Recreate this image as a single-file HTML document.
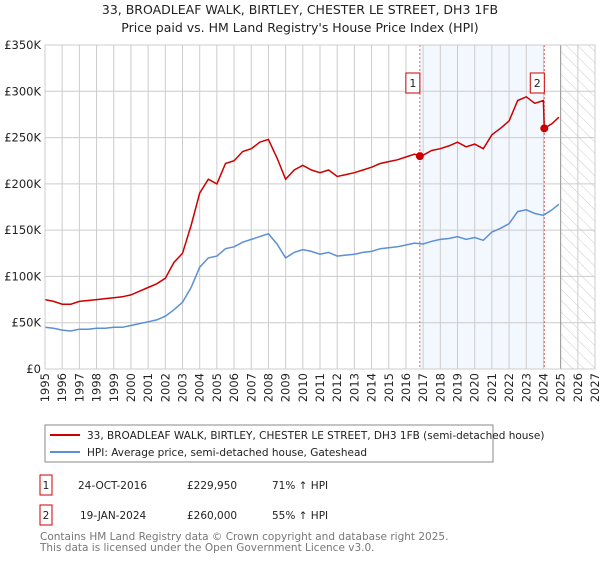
<!DOCTYPE html>
<html><head><meta charset="utf-8"><style>
body{margin:0;background:#fff;font-family:"Liberation Sans","DejaVu Sans",sans-serif;}
svg text{font-family:"DejaVu Sans","Liberation Sans",sans-serif;}
</style></head><body>
<svg width="600" height="560" viewBox="0 0 600 560">
<defs><pattern id="hatch" width="8" height="8" patternUnits="userSpaceOnUse" patternTransform="rotate(-45)"><line x1="0" y1="0" x2="0" y2="8" stroke="#ccc" stroke-width="1"/></pattern></defs>
<text x="300" y="14" text-anchor="middle" font-size="12.5" fill="#222">33, BROADLEAF WALK, BIRTLEY, CHESTER LE STREET, DH3 1FB</text>
<text x="300" y="32" text-anchor="middle" font-size="12.5" fill="#222">Price paid vs. HM Land Registry's House Price Index (HPI)</text>
<g id="plot"></g>
<rect x="45" y="425" width="448" height="37" fill="#fff" stroke="#888"/>
<line x1="50" y1="435" x2="80" y2="435" stroke="#cc0000" stroke-width="2"/>
<text x="87" y="439" font-size="10.5" fill="#222">33, BROADLEAF WALK, BIRTLEY, CHESTER LE STREET, DH3 1FB (semi-detached house)</text>
<line x1="50" y1="452" x2="80" y2="452" stroke="#5b8fd6" stroke-width="2"/>
<text x="87" y="456" font-size="10.5" fill="#222">HPI: Average price, semi-detached house, Gateshead</text>
<g font-size="10.5" fill="#222">
<rect x="40" y="475" width="12" height="20" fill="#fff" stroke="#cc0000"/><text x="46" y="489" text-anchor="middle">1</text>
<text x="78" y="489">24-OCT-2016</text><text x="187" y="489">£229,950</text><text x="272" y="489">71% ↑ HPI</text>
<rect x="40" y="505" width="12" height="20" fill="#fff" stroke="#cc0000"/><text x="46" y="519" text-anchor="middle">2</text>
<text x="80" y="519">19-JAN-2024</text><text x="187" y="519">£260,000</text><text x="272" y="519">55% ↑ HPI</text>
</g>
<text x="40" y="540" font-size="10.5" fill="#777">Contains HM Land Registry data © Crown copyright and database right 2025.</text>
<text x="40" y="551" font-size="10.5" fill="#777">This data is licensed under the Open Government Licence v3.0.</text>
</svg>
<script>
const hpiT=[1995,1995.5,1996,1996.5,1997,1997.5,1998,1998.5,1999,1999.5,2000,2000.5,2001,2001.5,2002,2002.5,2003,2003.5,2004,2004.5,2005,2005.5,2006,2006.5,2007,2007.5,2008,2008.5,2009,2009.5,2010,2010.5,2011,2011.5,2012,2012.5,2013,2013.5,2014,2014.5,2015,2015.5,2016,2016.5,2017,2017.5,2018,2018.5,2019,2019.5,2020,2020.5,2021,2021.5,2022,2022.5,2023,2023.5,2024,2024.5,2024.9];
const hpiV=[45,44,42,41,43,43,44,44,45,45,47,49,51,53,57,64,72,88,110,120,122,130,132,137,140,143,146,135,120,126,129,127,124,126,122,123,124,126,127,130,131,132,134,136,135,138,140,141,143,140,142,139,148,152,157,170,172,168,166,172,178];
const propT=[1995,1995.5,1996,1996.5,1997,1997.5,1998,1998.5,1999,1999.5,2000,2000.5,2001,2001.5,2002,2002.5,2003,2003.5,2004,2004.5,2005,2005.5,2006,2006.5,2007,2007.5,2008,2008.5,2009,2009.5,2010,2010.5,2011,2011.5,2012,2012.5,2013,2013.5,2014,2014.5,2015,2015.5,2016,2016.5,2016.81,2017,2017.5,2018,2018.5,2019,2019.5,2020,2020.5,2021,2021.5,2022,2022.5,2023,2023.5,2024.0,2024.05,2024.5,2024.9];
const propV=[75,73,70,70,73,74,75,76,77,78,80,84,88,92,98,115,125,155,190,205,200,222,225,235,238,245,248,228,205,215,220,215,212,215,208,210,212,215,218,222,224,226,229,232,229.95,231,236,238,241,245,240,243,238,253,260,268,290,294,287,290,260,265,272];
const saleT=[2016.81,2024.05];
const saleV=[229.95,260];
const saleLabels=["1","2"];
const yTicks=[0,50,100,150,200,250,300,350];
const yTickLabels=["£0","£50K","£100K","£150K","£200K","£250K","£300K","£350K"];
const xYears=[1995,1996,1997,1998,1999,2000,2001,2002,2003,2004,2005,2006,2007,2008,2009,2010,2011,2012,2013,2014,2015,2016,2017,2018,2019,2020,2021,2022,2023,2024,2025,2026,2027];

const X0=45,X1=595,Y0=369,Y1=45;
const xs=t=>X0+(t-1995)/(2027-1995)*(X1-X0);
const ys=v=>Y0-v/350*(Y0-Y1);
const NS="http://www.w3.org/2000/svg";
const g=document.getElementById('plot');
function mk(tag,attrs,parent){const e=document.createElementNS(NS,tag);for(const k in attrs)e.setAttribute(k,attrs[k]);(parent||g).appendChild(e);return e;}
let e;
e=mk('rect',{x:xs(saleT[0]),y:Y1,width:xs(saleT[1])-xs(saleT[0]),height:Y0-Y1,fill:'#eef3fd',opacity:0.7});


e=mk('rect',{x:xs(2025),y:Y1,width:X1-xs(2025),height:Y0-Y1,fill:'url(#hatch)'});


xYears.forEach(y=>{e=mk('line',{x1:xs(y),x2:xs(y),y1:Y1,y2:Y0,stroke:'#ccc','stroke-width':1});


const lx=xs(y)+4, ly=Y0+4;
e=mk('text',{x:lx,y:ly,'text-anchor':'end','font-size':11.5,fill:'#222',transform:'rotate(-90 '+lx+' '+ly+')'});e.textContent=y;

});
yTicks.forEach((v,i)=>{e=mk('line',{x1:X0,x2:X1,y1:ys(v),y2:ys(v),stroke:'#ccc','stroke-width':1});


e=mk('text',{x:X0-4,y:ys(v)+4,'text-anchor':'end','font-size':11.5,fill:'#222'});e.textContent=yTickLabels[i];

});
e=mk('line',{x1:xs(2025),x2:xs(2025),y1:Y1,y2:Y0,stroke:'#999','stroke-width':1});


saleT.forEach((t,i)=>{e=mk('line',{x1:xs(t),x2:xs(t),y1:Y1,y2:Y0,stroke:'#e06060','stroke-width':1,'stroke-dasharray':'2,2'});

});
function path(T,V){return T.map((t,i)=>(i?'L':'M')+xs(t).toFixed(1)+','+ys(V[i]).toFixed(1)).join('');}
e=mk('path',{d:path(hpiT,hpiV),fill:'none',stroke:'#5b8fd6','stroke-width':1.5});


e=mk('path',{d:path(propT,propV),fill:'none',stroke:'#cc0000','stroke-width':1.5});


saleT.forEach((t,i)=>{e=mk('circle',{cx:xs(t),cy:ys(saleV[i]),r:4,fill:'#cc0000'});


const bx=xs(t)-14;
e=mk('rect',{x:bx,y:73,width:14,height:20,fill:'#fff',stroke:'#cc0000'});


e=mk('text',{x:bx+7,y:87,'text-anchor':'middle','font-size':11,fill:'#222'});e.textContent=saleLabels[i];

});
e=mk('rect',{x:X0,y:Y1,width:X1-X0,height:Y0-Y1,fill:'none',stroke:'#ccc'});


</script>
</body></html>
